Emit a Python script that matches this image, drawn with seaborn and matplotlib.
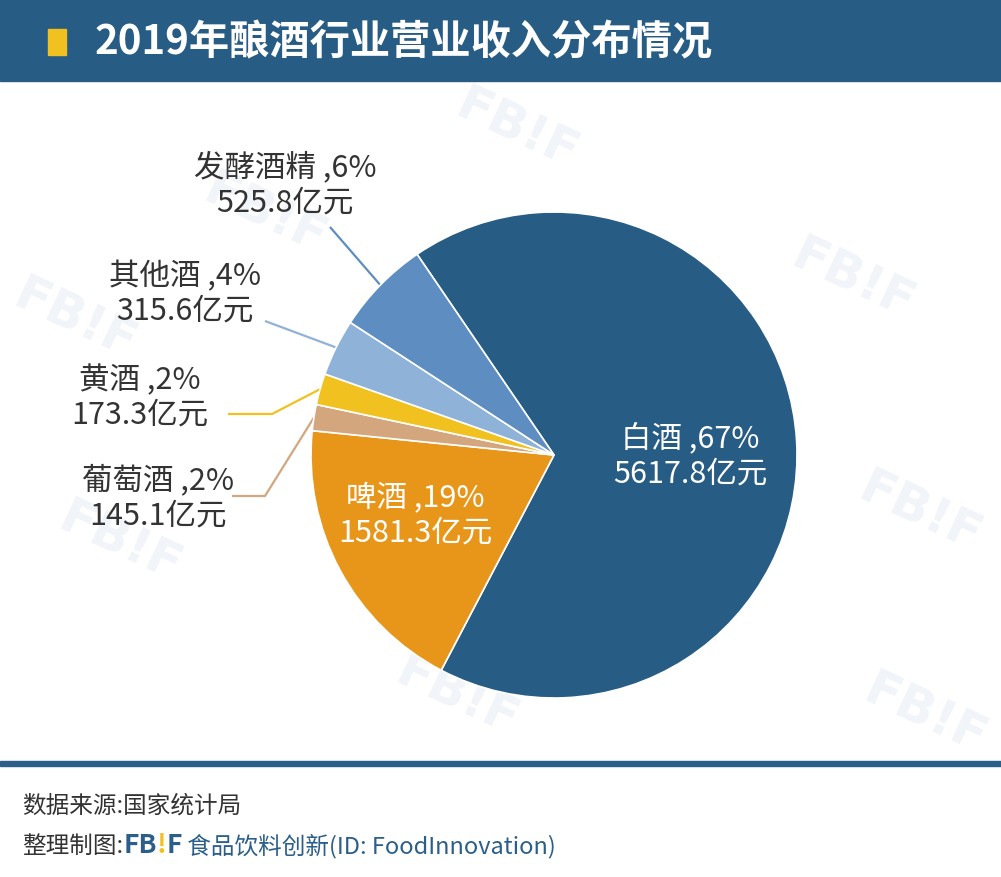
import matplotlib
matplotlib.use("Agg")
import matplotlib.pyplot as plt
from matplotlib.patches import Rectangle
import numpy as np
import seaborn as sns

sns.set_theme(style="white")
plt.rcParams['font.family'] = ['Noto Sans CJK SC', 'DejaVu Sans']

# 数据
categories = ['白酒', '啤酒', '葡萄酒', '黄酒', '其他酒', '发酵酒精']
values = [5617.8, 1581.3, 145.1, 173.3, 315.6, 525.8]
colors = sns.color_palette(['#275C84', '#E8961A', '#D4A67E', '#F1C11F', '#8FB2D8', '#5E8EC1'])

title = '2019年酿酒行业营业收入分布情况'
source = '数据来源:国家统计局'
credit = [('FB', '#2B5F8A', 'bold'), ('!', '#F1C11F', 'bold'), ('F', '#2B5F8A', 'bold'),
          (' 食品饮料创新(ID: FoodInnovation)', '#2B5F8A', 'medium')]

W, H = 1001, 878
fig = plt.figure(figsize=(W / 100, H / 100), dpi=100)
ax = fig.add_axes([0, 0, 1, 1])

def py(y):
    # 像素坐标(从上往下) -> 数据坐标
    return H - y

# 水印
for wx, wy in [(517, 130), (265, 215), (853, 280), (75, 320), (920, 513),
               (120, 543), (457, 697), (660, 620), (925, 715)]:
    ax.text(wx, py(wy), 'FB!F', fontsize=36, fontweight='bold', color='#F1F4F8',
            rotation=-25, ha='center', va='center', family='DejaVu Sans', zorder=0)

# 饼图
total = sum(values)
wedges, _ = ax.pie(values, colors=colors, startangle=124.3, counterclock=False,
                   center=(554, py(456)), radius=243, frame=True,
                   wedgeprops=dict(edgecolor='white', linewidth=1.2))
for w in wedges:
    w.set_zorder(2)

ax.set_xlim(0, W)
ax.set_ylim(0, H)
ax.set_aspect('equal')
ax.axis('off')

def label(i):
    return f'{categories[i]} ,{values[i] / total * 100:.0f}%\n{values[i]}亿元'

# 饼内标签
ax.text(690, py(456), label(0), color='white', fontsize=22, ha='center', va='center',
        linespacing=1.15, zorder=3)
ax.text(415, py(516), label(1), color='white', fontsize=22, ha='center', va='center',
        linespacing=1.15, zorder=3)

# 外部标签 (文字位置, 引线折点)
outer = {
    5: ((285, 185), [(330, 228)]),
    4: ((185, 294), [(265, 322)]),
    3: ((140, 398), [(228, 415), (272, 415)]),
    2: ((158, 498), [(232, 497), (265, 497)]),
}
for i, ((tx, ty), pts) in outer.items():
    ax.text(tx, py(ty), label(i), color='#333333', fontsize=22, ha='center', va='center',
            linespacing=1.15, zorder=3)
    w = wedges[i]
    mid = np.deg2rad((w.theta1 + w.theta2) / 2)
    ex = w.center[0] + w.r * np.cos(mid)
    ey = w.center[1] + w.r * np.sin(mid)
    xs = [p[0] for p in pts] + [ex]
    ys = [py(p[1]) for p in pts] + [ey]
    ax.plot(xs, ys, color=colors[i], lw=1.6, zorder=1.5, solid_capstyle='butt')

# 顶部标题栏
fig.add_artist(Rectangle((0, 1 - 82 / H), 1, 82 / H, transform=fig.transFigure,
                         color='#275C84', zorder=5))
fig.add_artist(Rectangle((48 / W, 1 - 56 / H), 18 / W, 26 / H, transform=fig.transFigure,
                         color='#F1C11F', zorder=6))
fig.text(95 / W, 1 - 43 / H, title, color='white', fontsize=29, fontweight='bold',
         ha='left', va='center', zorder=7)

# 底部分割线和来源
fig.add_artist(Rectangle((0, 1 - 767 / H), 1, 5 / H, transform=fig.transFigure,
                         color='#2B5F8A', zorder=5))
fig.text(22 / W, 1 - 806 / H, source, color='#333333', fontsize=17, ha='left', va='center')

prev = ax.text(22, py(846), '整理制图:', color='#333333', fontsize=17,
               ha='left', va='center')
for s, c, wt in credit:
    prev = ax.annotate(s, xy=(1, 0.5), xycoords=prev, xytext=(0, 0),
                       textcoords='offset points', ha='left', va='center',
                       color=c, fontweight=wt, fontsize=17 if wt == 'medium' else 19)

fig.savefig('out.png', dpi=100)
